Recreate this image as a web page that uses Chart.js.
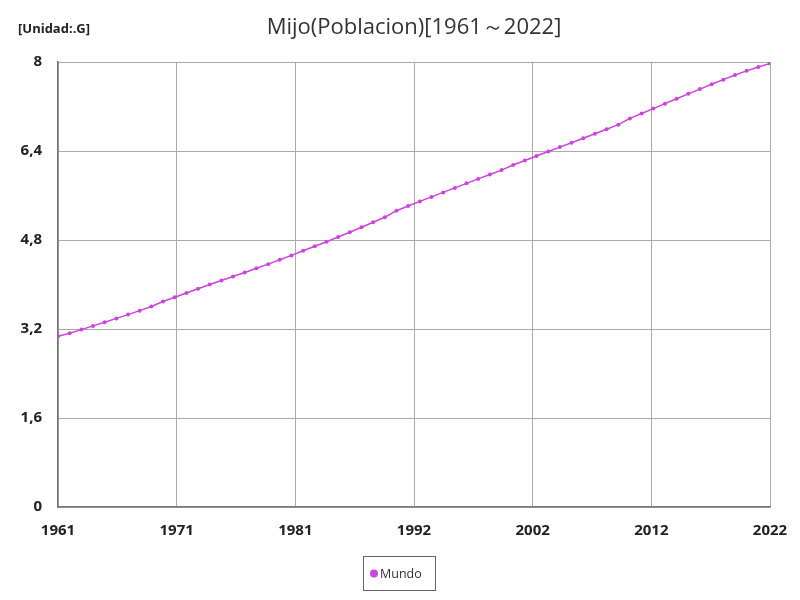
<!DOCTYPE html>
<html><head><meta charset="utf-8">
<script src="https://cdn.jsdelivr.net/npm/chart.js@4"></script>
<style>html,body{margin:0;padding:0;background:#fff}#wrap{width:800px;height:600px}</style>
</head><body><div id="wrap"><canvas id="c" width="800" height="600"></canvas></div>
<script>
const years = [];
for (let y = 1961; y <= 2022; y++) years.push(y);
const mundo = [3.070,3.122,3.189,3.256,3.322,3.391,3.459,3.530,3.604,3.695,3.771,3.847,3.923,3.999,4.073,4.144,4.217,4.291,4.366,4.444,4.523,4.606,4.688,4.769,4.853,4.940,5.030,5.120,5.209,5.327,5.412,5.494,5.575,5.656,5.737,5.818,5.898,5.978,6.057,6.149,6.229,6.310,6.390,6.470,6.549,6.630,6.710,6.791,6.874,6.986,7.073,7.162,7.251,7.340,7.427,7.513,7.599,7.683,7.765,7.841,7.909,7.975];
const yTicks = [0,1.6,3.2,4.8,6.4,8];
const titleText = 'Mijo(Poblacion)[1961～2022]';
const unitText = '[Unidad:.G]';
const seriesName = 'Mundo';
const FONT = '"Open Sans", "Noto Sans", sans-serif';
const color = '#cc44dd';

const extras = {
  id:'extras',
  afterDraw(chart){
    const ctx = chart.ctx, ca = chart.chartArea;
    ctx.save();
    ctx.fillStyle = '#333';
    ctx.font = '22px ' + FONT;
    ctx.textAlign = 'center'; ctx.textBaseline = 'middle';
    ctx.fillText(titleText, (ca.left+ca.right)/2, 28);
    ctx.fillStyle = '#222';
    ctx.font = 'bold 13px ' + FONT;
    ctx.textAlign = 'left';
    ctx.fillText(unitText, 18, 29);
    // legend
    const ds = chart.data.datasets[0];
    ctx.font = '12.5px ' + FONT;
    const tw = ctx.measureText(ds.label).width;
    const boxW = tw + 30, boxH = 34;
    const bx = Math.round(399 - boxW/2), by = 556;
    ctx.strokeStyle = '#666'; ctx.lineWidth = 1;
    ctx.strokeRect(bx+0.5, by+0.5, Math.round(boxW), boxH);
    ctx.fillStyle = ds.borderColor;
    ctx.beginPath(); ctx.arc(bx+11, by+boxH/2+0.5, 4, 0, Math.PI*2); ctx.fill();
    ctx.fillStyle = '#333';
    ctx.textAlign = 'left';
    ctx.fillText(ds.label, bx+17, by+boxH/2+1);
    ctx.restore();
  }
};

new Chart(document.getElementById('c'), {
  type:'line',
  data:{ datasets:[{ label:seriesName, data: years.map((y,i)=>({x:y,y:mundo[i]})), borderColor:color, backgroundColor:color, borderWidth:1.5, pointRadius:2, pointBorderWidth:0, pointStyle:'circle', tension:0 }] },
  options:{
    responsive:false, animation:false,
    layout:{ padding:{ top:62, right:30, left:10, bottom:10 } },
    plugins:{
      title:{display:false},
      tooltip:{enabled:false},
      legend:{ display:false }
    },
    scales:{
      x:{ type:'linear', min:1961, max:2022,
        afterBuildTicks(ax){ ax.ticks = []; for(let i=0;i<=6;i++) ax.ticks.push({value:1961+61*i/6}); },
        afterFit(ax){ ax.height = 83; ax.paddingLeft = 0; ax.paddingRight = 0; },
        ticks:{ color:'#222', font:{family:FONT,size:15,weight:'bold'}, padding:15, maxRotation:0, callback:(v)=>String(Math.round(v)) },
        grid:{ color:'#aaa', lineWidth:1, drawTicks:false },
        border:{ color:'#777', width:1.5 }
      },
      y:{ min:0, max:8,
        afterBuildTicks(ax){ ax.ticks = yTicks.map(v=>({value:v})); },
        afterFit(ax){ ax.width = 48; ax.paddingTop = 0; ax.paddingBottom = 0; },
        ticks:{ color:'#222', font:{family:FONT,size:15,weight:'bold'}, padding:16, callback:(v)=>String(v).replace('.',',') },
        grid:{ color:'#aaa', lineWidth:1, drawTicks:false },
        border:{ color:'#777', width:1.5 }
      }
    }
  },
  plugins:[extras]
});
</script></body></html>
